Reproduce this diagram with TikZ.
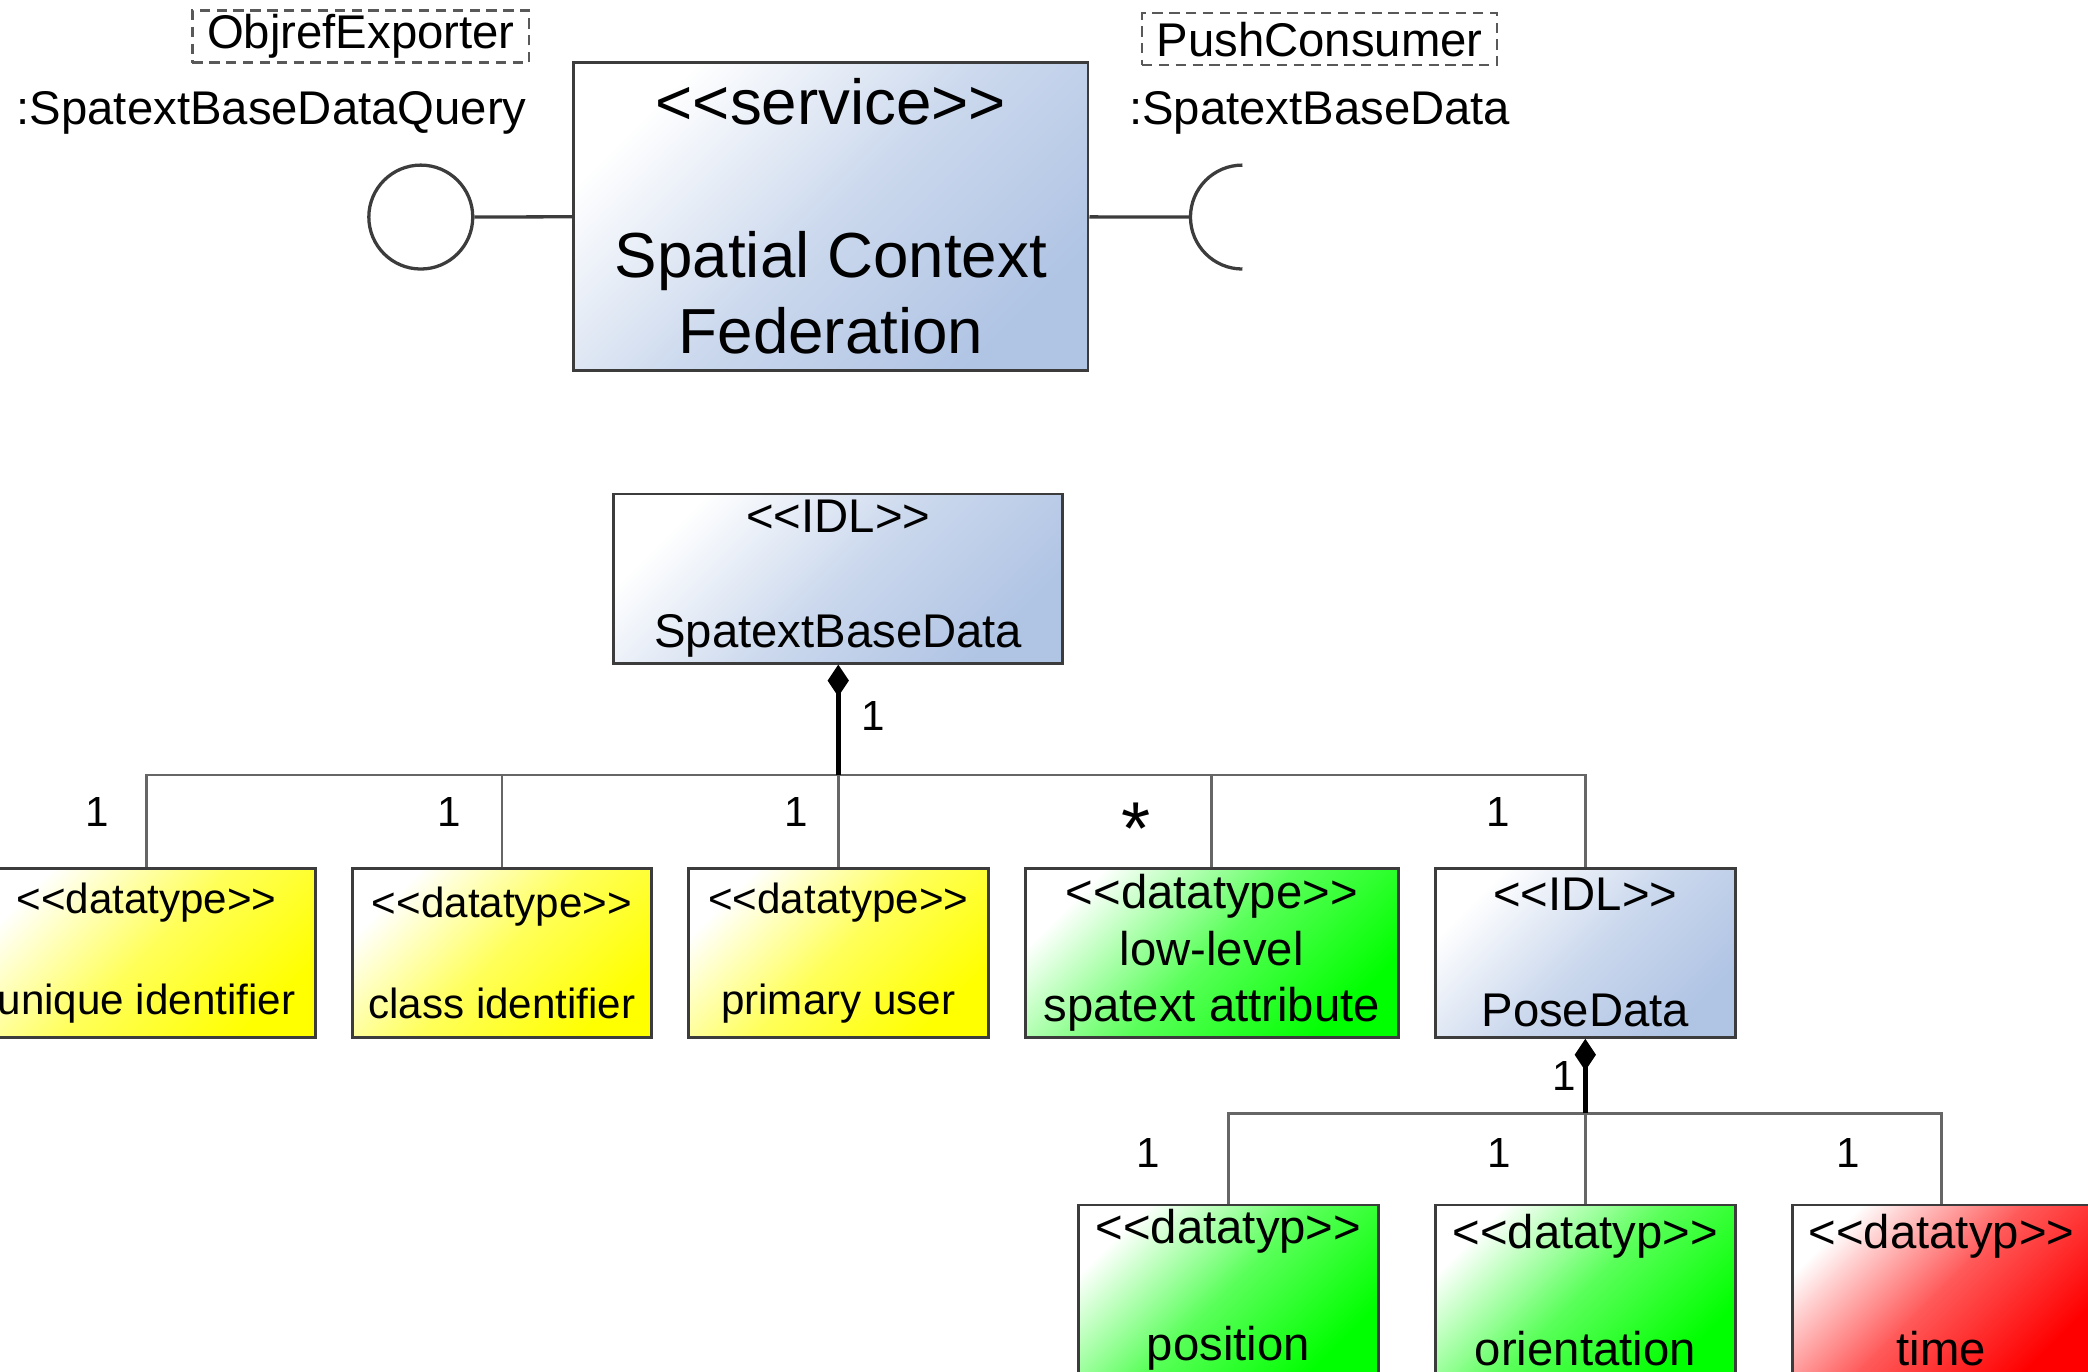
\documentclass[tikz,border=0pt]{standalone}
\usepackage{fontspec}
\setmainfont{Liberation Sans}
\usepackage{tikz}
\usetikzlibrary{arrows.meta}
\definecolor{idlblue}{RGB}{176,196,228}
\definecolor{dtyel}{RGB}{255,255,0}
\definecolor{dtgrn}{RGB}{0,255,0}
\definecolor{dtred}{RGB}{255,0,0}
\definecolor{boxline}{RGB}{60,60,60}
\newcommand{\stereo}[1]{<\kern0pt<#1>\kern0pt>}

\begin{document}
\begin{tikzpicture}[x=0.01cm,y=-0.01cm]
	\tikzstyle{uml}=[draw=boxline,line width=0.6pt,inner sep=0pt,align=center,minimum height=1.27cm];
	\tikzstyle{std}=[font=\fontsize{10.1}{12.1}\selectfont];
	\tikzstyle{sml}=[font=\fontsize{9}{10.8}\selectfont];
	\tikzstyle{idl}=[uml,top color=white,bottom color=idlblue,middle color=idlblue!65!white,shading angle=45];
	\tikzstyle{yel}=[uml,top color=white,bottom color=dtyel,middle color=dtyel!65!white,shading angle=45];
	\tikzstyle{grn}=[uml,top color=white,bottom color=dtgrn,middle color=dtgrn!65!white,shading angle=45];
	\tikzstyle{redbox}=[uml,top color=white,bottom color=dtred,middle color=dtred!65!white,shading angle=45];
	\tikzstyle{iname}=[std,inner sep=0pt];
	\tikzstyle{dashbox}=[std,draw=black!65,dash pattern=on 2.2pt off 1.4pt,line width=0.5pt,inner xsep=0.11cm,inner ysep=0pt,minimum height=0.39cm];
	\tikzstyle{iface}=[draw=boxline,line width=0.7pt];
	\tikzstyle{assoc}=[draw=black!60,line width=0.6pt];
	\tikzstyle{comp}=[draw=black,line width=1pt,-{Diamond[length=0.24cm,width=0.16cm]}];
	\tikzstyle{mult}=[font=\fontsize{9}{10}\selectfont,inner sep=0pt];
%<--------------------------------------------------------------------------->%

	\useasboundingbox (0,0) rectangle (1568,1030);
	%% service with its interfaces
	\node[idl,minimum width=3.86cm,minimum height=2.31cm,font=\fontsize{13.6}{16.3}\selectfont] (scf) at (624,162.5) {\stereo{service}\\[16.4pt]Spatial Context\\Federation};
	\node[circle,draw=boxline,line width=0.7pt,minimum size=0.78cm,inner sep=0pt] (prov) at (316,163) {};
	\coordinate (sock) at (894,163);
	\draw[iface] (prov) -- (scf);
	\draw[iface] (scf) -- (sock);
	\draw[iface] (sock) arc[start angle=180,end angle=90,radius=0.39cm]
	             (sock) arc[start angle=180,end angle=270,radius=0.39cm];
	\node[dashbox] (objref) at (271,27.5) {ObjrefExporter};
	\node[iname]   (qname)  at (204,85)   {:SpatextBaseDataQuery};
	\node[dashbox] (pushc)  at (991,29.5) {PushConsumer};
	\node[iname]   (dname)  at (991,85)   {:SpatextBaseData};

	%% data types
	\node[idl,std,minimum width=3.37cm] (sbd)    at (629.5,434.5) {\stereo{IDL}\\[12.4pt]SpatextBaseData};
	\node[yel,sml,minimum width=2.54cm] (uid)    at (110,715.5)   {\stereo{datatype}\\[10.8pt]unique identifier};
	\node[yel,sml,minimum width=2.24cm] (cid)    at (377,715.5)   {\stereo{datatype}\\[10.8pt]class identifier};
	\node[yel,sml,minimum width=2.25cm] (puser)  at (629.5,715.5) {\stereo{datatype}\\[10.8pt]primary user};
	\node[grn,std,minimum width=2.80cm] (llattr) at (910,715.5)   {\stereo{datatype}\\low-level\\spatext attribute};
	\node[idl,std,minimum width=2.25cm] (pose)   at (1190.5,715.5){\stereo{IDL}\\[12.6pt]PoseData};
	\node[grn,std,minimum width=2.25cm] (pos)    at (922.5,968.5) {\stereo{datatyp}\\[12.9pt]position};
	\node[grn,std,minimum width=2.25cm] (ori)    at (1190.5,968.5){\stereo{datatyp}\\[12.9pt]orientation};
	\node[redbox,std,minimum width=2.24cm] (tim) at (1458,968.5)  {\stereo{datatyp}\\[12.9pt]time};

	%% compositions
	\coordinate (bus1) at (629.5,582);
	\coordinate (bus2) at (1190.5,836);
	\draw[assoc] (bus1) -| (uid.north);
	\draw[assoc] (bus1) -| (cid.north);
	\draw[assoc] (bus1) -- (puser.north);
	\draw[assoc] (bus1) -| (llattr.north);
	\draw[assoc] (bus1) -| (pose.north);
	\draw[comp]  (bus1) -- (sbd.south);
	\draw[assoc] (bus2) -| (pos.north);
	\draw[assoc] (bus2) -- (ori.north);
	\draw[assoc] (bus2) -| (tim.north);
	\draw[comp]  (bus2) -- (pose.south);

	%% multiplicities
	\node[mult] (m0) at (656,538)  {1};
	\node[mult] (m1) at (73,610)   {1};
	\node[mult] (m2) at (337,610)  {1};
	\node[mult] (m3) at (598,610)  {1};
	\node[mult,font=\fontsize{16}{16}\selectfont] (m4) at (853,622) {*};
	\node[mult] (m5) at (1125,610) {1};
	\node[mult] (m6) at (1175,808) {1};
	\node[mult] (m7) at (862,866)  {1};
	\node[mult] (m8) at (1126,866) {1};
	\node[mult] (m9) at (1388,866) {1};
\end{tikzpicture}
\end{document}
